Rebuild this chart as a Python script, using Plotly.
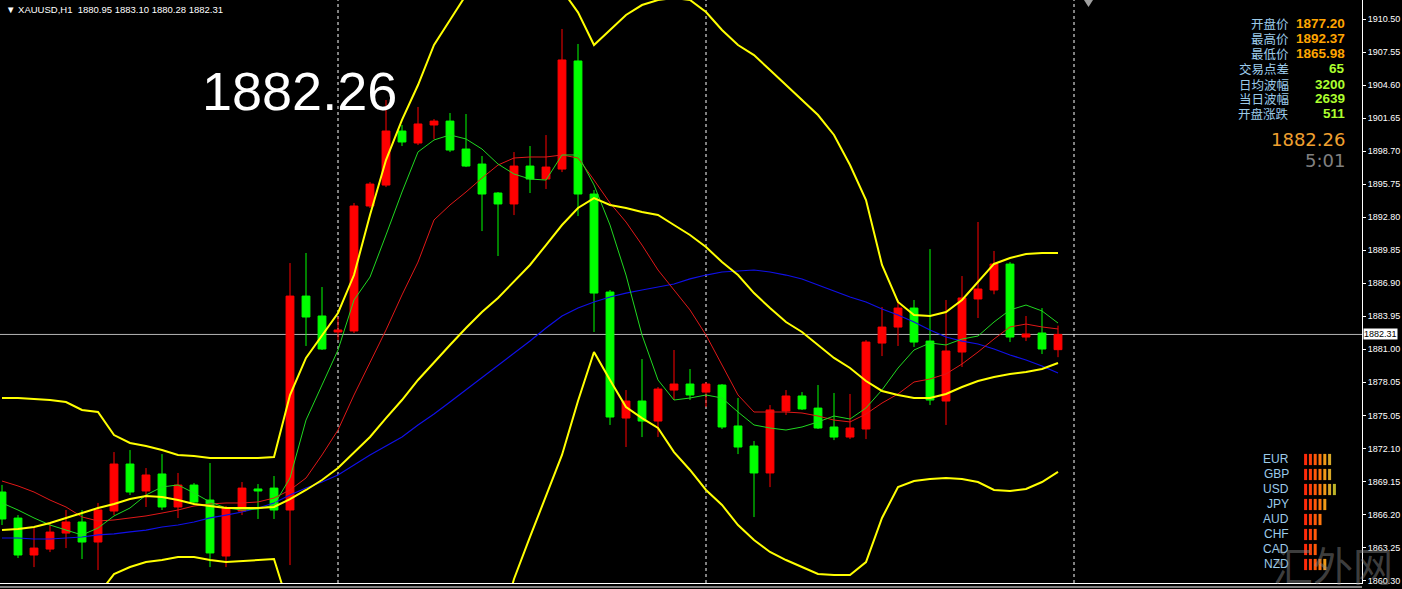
import plotly.graph_objects as go

# ---------------- data ----------------
idx = list(range(67))
opens = [1868.23, 1865.90, 1862.60, 1863.13, 1864.56, 1865.55, 1863.76, 1866.53, 1870.73, 1868.32,
         1869.84, 1866.89, 1868.85, 1867.51, 1862.51, 1866.53, 1868.50, 1868.58, 1866.62, 1885.74,
         1883.96, 1882.53, 1882.62, 1893.79, 1895.66, 1900.49, 1899.42, 1901.03, 1901.38, 1898.88,
         1897.54, 1894.95, 1893.97, 1897.36, 1896.20, 1897.09, 1906.75, 1894.86, 1886.10, 1874.84,
         1876.36, 1874.57, 1877.34, 1877.88, 1877.16, 1877.79, 1874.13, 1872.34, 1869.93, 1875.47,
         1876.81, 1875.73, 1874.04, 1873.14, 1873.86, 1881.54, 1882.97, 1884.67, 1881.72, 1876.36,
         1880.74, 1885.48, 1886.28, 1888.60, 1882.08, 1882.44, 1880.95]
highs = [1868.86, 1866.17, 1865.01, 1865.55, 1866.62, 1866.62, 1867.25, 1871.80, 1871.98, 1870.37,
         1871.62, 1869.93, 1869.03, 1870.82, 1866.98, 1869.12, 1868.94, 1869.66, 1888.69, 1889.59,
         1886.55, 1883.87, 1894.06, 1895.93, 1903.26, 1901.03, 1902.64, 1901.56, 1902.10, 1902.01,
         1898.26, 1895.04, 1898.61, 1899.15, 1900.13, 1909.61, 1908.27, 1895.22, 1886.28, 1877.34,
         1880.11, 1877.61, 1880.92, 1879.22, 1878.06, 1877.88, 1876.63, 1872.79, 1876.00, 1877.34,
         1877.16, 1877.79, 1877.08, 1876.99, 1881.81, 1884.76, 1885.39, 1885.39, 1889.94, 1885.39,
         1887.53, 1892.36, 1889.77, 1888.78, 1883.96, 1884.67, 1883.10]
lows = [1865.28, 1862.33, 1861.52, 1862.86, 1863.22, 1862.24, 1861.26, 1866.17, 1867.96, 1866.89,
        1866.62, 1865.90, 1867.07, 1861.52, 1861.52, 1866.17, 1865.82, 1865.82, 1861.70, 1881.28,
        1880.92, 1881.81, 1882.44, 1893.61, 1895.48, 1899.15, 1899.24, 1899.78, 1898.61, 1897.27,
        1891.55, 1889.32, 1892.98, 1894.95, 1895.31, 1896.82, 1892.89, 1882.53, 1874.22, 1872.25,
        1873.14, 1873.14, 1876.45, 1876.45, 1875.82, 1873.86, 1871.62, 1865.99, 1868.67, 1875.11,
        1875.56, 1873.86, 1872.87, 1872.96, 1872.96, 1880.38, 1881.28, 1881.19, 1876.00, 1874.22,
        1879.40, 1883.78, 1885.90, 1881.63, 1881.72, 1880.56, 1880.28]
closes = [1865.82, 1862.60, 1863.22, 1864.65, 1865.55, 1863.76, 1866.62, 1870.73, 1868.23, 1869.75,
          1866.89, 1868.85, 1867.33, 1862.78, 1866.80, 1868.58, 1868.32, 1866.62, 1885.74, 1883.87,
          1881.01, 1882.71, 1893.79, 1895.75, 1900.49, 1899.51, 1901.12, 1901.38, 1898.79, 1897.36,
          1894.86, 1893.97, 1897.36, 1896.20, 1897.27, 1906.84, 1894.86, 1886.01, 1874.93, 1876.36,
          1874.57, 1877.43, 1877.88, 1876.90, 1877.88, 1874.04, 1872.25, 1869.93, 1875.56, 1876.81,
          1875.65, 1873.95, 1873.14, 1873.95, 1881.63, 1882.97, 1884.67, 1881.63, 1876.45, 1880.83,
          1885.57, 1886.37, 1888.60, 1882.08, 1882.35, 1881.01, 1882.31]

bb_upper = [1876.63, 1876.63, 1876.54, 1876.45, 1876.27, 1875.56, 1875.38, 1873.32, 1872.61, 1872.34,
            1871.98, 1871.54, 1871.45, 1871.27, 1871.27, 1871.27, 1871.27, 1871.36, 1876.90, 1880.21,
            1882.26, 1884.23, 1887.62, 1892.99, 1897.90, 1901.48, 1904.60, 1908.18, 1910.41, 1912.65,
            1914.88, 1915.77, 1915.77, 1915.33, 1913.99, 1913.10, 1911.10, 1908.18, 1909.52, 1910.86,
            1911.75, 1912.20, 1912.38, 1912.20, 1911.13, 1909.52, 1908.18, 1907.28, 1905.94, 1904.60,
            1903.26, 1901.92, 1900.14, 1897.45, 1894.33, 1888.52, 1885.21, 1884.05, 1883.96, 1884.32,
            1885.39, 1887.00, 1888.61, 1889.14, 1889.50, 1889.59, 1889.59]
bb_middle = [1864.83, 1864.92, 1865.10, 1865.46, 1865.91, 1866.35, 1866.80, 1867.16, 1867.60, 1867.87,
             1867.78, 1867.51, 1867.16, 1866.98, 1866.80, 1866.80, 1866.80, 1866.89, 1867.60, 1868.41,
             1869.30, 1870.37, 1871.80, 1873.15, 1874.84, 1876.45, 1878.24, 1879.85, 1881.37, 1882.89,
             1884.32, 1885.57, 1887.00, 1888.52, 1890.30, 1892.09, 1893.61, 1894.50, 1893.88, 1893.61,
             1893.25, 1892.99, 1892.09, 1891.20, 1890.13, 1888.78, 1887.62, 1886.01, 1884.67, 1883.42,
             1882.53, 1881.37, 1880.21, 1879.31, 1878.15, 1877.26, 1876.90, 1876.63, 1876.63, 1876.99,
             1877.61, 1878.15, 1878.51, 1878.78, 1878.95, 1879.22, 1879.76]
bb_lower = [1856.80, 1857.00, 1857.20, 1857.40, 1857.80, 1858.20, 1859.02, 1860.90, 1861.53, 1861.97,
            1862.15, 1862.42, 1862.42, 1862.15, 1861.97, 1862.06, 1862.15, 1862.24, 1857.68, 1856.60,
            1856.30, 1856.50, 1856.00, 1853.30, 1851.80, 1851.40, 1851.90, 1851.50, 1852.30, 1853.10,
            1853.80, 1855.40, 1860.46, 1864.21, 1867.87, 1871.54, 1876.36, 1880.74, 1878.24, 1875.83,
            1874.84, 1873.95, 1871.80, 1870.20, 1868.41, 1867.07, 1865.28, 1863.94, 1862.87, 1862.15,
            1861.53, 1860.90, 1860.81, 1860.81, 1861.97, 1865.91, 1868.68, 1869.21, 1869.39, 1869.48,
            1869.39, 1869.12, 1868.41, 1868.32, 1868.50, 1869.12, 1870.02]
ma_fast = [1867.25, 1866.62, 1865.91, 1865.28, 1864.83, 1864.39, 1865.01, 1866.09, 1866.80, 1867.96,
           1868.68, 1868.86, 1868.14, 1867.34, 1866.80, 1866.62, 1866.71, 1867.07, 1869.48, 1874.66,
           1877.79, 1880.92, 1885.39, 1887.44, 1891.20, 1895.04, 1898.62, 1899.69, 1900.14, 1899.78,
           1898.88, 1897.54, 1896.65, 1896.20, 1896.11, 1898.35, 1898.35, 1895.67, 1892.09, 1887.62,
           1882.26, 1878.24, 1876.45, 1876.63, 1876.90, 1876.63, 1875.38, 1874.22, 1873.95, 1873.77,
           1874.04, 1874.49, 1875.02, 1874.75, 1875.74, 1877.35, 1879.31, 1880.92, 1881.55, 1881.37,
           1881.90, 1882.17, 1883.42, 1884.50, 1884.94, 1884.41, 1883.33]
ma_mid = [1869.21, 1868.77, 1868.23, 1867.51, 1866.89, 1866.00, 1865.64, 1865.73, 1865.91, 1866.09,
          1866.35, 1866.62, 1866.98, 1867.16, 1867.25, 1867.25, 1867.34, 1867.69, 1868.41, 1869.48,
          1871.54, 1873.77, 1876.90, 1879.85, 1882.71, 1885.84, 1888.78, 1892.54, 1893.88, 1895.04,
          1896.29, 1897.45, 1898.08, 1898.17, 1898.17, 1898.35, 1898.08, 1896.11, 1894.06, 1892.36,
          1890.30, 1888.07, 1886.28, 1884.50, 1882.26, 1879.58, 1876.90, 1875.38, 1875.38, 1875.38,
          1875.29, 1875.02, 1874.66, 1874.49, 1875.20, 1876.18, 1876.99, 1878.06, 1878.33, 1878.78,
          1879.67, 1880.74, 1881.90, 1882.98, 1883.24, 1882.98, 1882.80]
ma_slow = [1864.12, 1864.12, 1864.03, 1864.03, 1864.12, 1864.21, 1864.39, 1864.48, 1864.66, 1864.83,
           1865.10, 1865.28, 1865.55, 1865.91, 1866.17, 1866.44, 1866.80, 1867.25, 1867.96, 1868.59,
           1869.12, 1869.75, 1870.64, 1871.54, 1872.34, 1873.15, 1874.22, 1875.20, 1876.27, 1877.35,
           1878.42, 1879.49, 1880.65, 1881.72, 1882.89, 1883.96, 1884.67, 1885.21, 1885.66, 1886.01,
           1886.28, 1886.55, 1886.82, 1887.27, 1887.62, 1887.89, 1887.98, 1888.07, 1887.89, 1887.62,
           1887.27, 1886.73, 1886.19, 1885.66, 1885.21, 1884.58, 1884.05, 1883.42, 1882.71, 1882.08,
           1881.72, 1881.46, 1881.01, 1880.47, 1880.03, 1879.49, 1878.87]

day_separators = [21, 44, 67]
current_price = 1882.31
tick_vals = [1910.50, 1907.55, 1904.60, 1901.65, 1898.70, 1895.75, 1892.80, 1889.85, 1886.90,
             1883.95, 1881.00, 1878.05, 1875.05, 1872.10, 1869.15, 1866.20, 1863.25, 1860.30]
tick_text = ["%.2f" % v for v in tick_vals]

header = "▼ XAUUSD,H1  1880.95 1883.10 1880.28 1882.31"
big_price = "1882.26"
info_labels = ["开盘价", "最高价", "最低价", "交易点差", "日均波幅", "当日波幅", "开盘涨跌"]
info_values = ["1877.20", "1892.37", "1865.98", "65", "3200", "2639", "511"]
info_colors = ["#FFA500", "#FFA500", "#FFA500", "#ADFF2F", "#ADFF2F", "#ADFF2F", "#ADFF2F"]
bid_text = "1882.26"
timer_text = "5:01"
currencies = ["EUR", "GBP", "USD", "JPY", "AUD", "CHF", "CAD", "NZD"]
strength = [6, 6, 7, 5, 4, 3, 3, 5]
seg_colors = ["#FF2A0A", "#FF400A", "#FF5A0A", "#FF760E", "#F09A18", "#D8A828", "#BDB428"]

# ---------------- figure ----------------
W, H = 1402, 589
ML, MR, MT, MB = 0, 40, 0, 6
PW, PH = W - ML - MR, H - MT - MB


def px(x):
    return x / PW


def py(y):
    return 1 - y / PH


fig = go.Figure()
fig.add_trace(go.Candlestick(
    x=idx, open=opens, high=highs, low=lows, close=closes,
    increasing=dict(line=dict(color="#FF0000", width=1), fillcolor="#FF0000"),
    decreasing=dict(line=dict(color="#00FF00", width=1), fillcolor="#00FF00"),
    whiskerwidth=0, showlegend=False, hoverinfo="skip"))

for series, color, width in [(ma_slow, "#1010E8", 1.2), (ma_mid, "#E01818", 1),
                             (ma_fast, "#20D820", 1),
                             (bb_upper, "#FFFF00", 2), (bb_middle, "#FFFF00", 2),
                             (bb_lower, "#FFFF00", 2)]:
    fig.add_trace(go.Scatter(x=idx, y=series, mode="lines",
                             line=dict(color=color, width=width),
                             showlegend=False, hoverinfo="skip"))

# currency strength bars
bx, by, bc = [], [], []
for r, (cur, n) in enumerate(zip(currencies, strength)):
    for k in range(1, n + 1):
        bx.append(k)
        by.append(r)
        bc.append(seg_colors[k - 1])
fig.add_trace(go.Scatter(x=bx, y=by, mode="markers", xaxis="x2", yaxis="y2",
                         marker=dict(symbol="line-ns", size=8,
                                     line=dict(width=3, color=bc)),
                         showlegend=False, hoverinfo="skip"))

shapes = []
shapes.append(dict(type="line", xref="paper", yref="y", x0=0, x1=1,
                   y0=current_price, y1=current_price,
                   line=dict(color="#B4B4B4", width=1), layer="below"))
for s in day_separators:
    shapes.append(dict(type="line", xref="x", yref="paper", x0=s, x1=s, y0=0, y1=1,
                       line=dict(color="#FFFFFF", width=1, dash="3px,3px"), layer="below"))
shapes.append(dict(type="line", xref="paper", yref="paper", x0=0, x1=1,
                   y0=-4 / PH, y1=-4 / PH, line=dict(color="#FFFFFF", width=1)))
shapes.append(dict(type="path", xref="paper", yref="paper",
                   path="M %f,%f L %f,%f L %f,%f Z" % (px(1084), py(0), px(1093), py(0),
                                                      px(1088.5), py(7)),
                   fillcolor="#A0A0A0", line=dict(width=0)))

ann = []
ann.append(dict(text=header, x=px(4), y=py(9), xref="paper", yref="paper",
                xanchor="left", yanchor="middle", showarrow=False,
                font=dict(family="Liberation Sans", size=9.5, color="#FFFFFF")))
ann.append(dict(text=big_price, x=px(200), y=py(91), xref="paper", yref="paper",
                xanchor="left", yanchor="middle", showarrow=False,
                font=dict(family="Liberation Sans", size=54, color="#FFFFFF")))
rows_y = [23, 38, 53, 69, 84, 99, 114]
for lab, val, col, yy in zip(info_labels, info_values, info_colors, rows_y):
    ann.append(dict(text=lab, x=px(1291), y=py(yy), xref="paper", yref="paper",
                    xanchor="right", yanchor="middle", showarrow=False,
                    font=dict(family="Noto Sans CJK SC", size=12.5, color="#9CCBEA")))
    ann.append(dict(text="<b>%s</b>" % val, x=px(1347), y=py(yy), xref="paper", yref="paper",
                    xanchor="right", yanchor="middle", showarrow=False,
                    font=dict(family="Liberation Sans", size=13.5, color=col)))
ann.append(dict(text=bid_text, x=px(1347), y=py(140), xref="paper", yref="paper",
                xanchor="right", yanchor="middle", showarrow=False,
                font=dict(family="DejaVu Sans", size=18, color="#F0A030")))
ann.append(dict(text=timer_text, x=px(1347), y=py(160), xref="paper", yref="paper",
                xanchor="right", yanchor="middle", showarrow=False,
                font=dict(family="DejaVu Sans", size=18, color="#808080")))
for r, cur in enumerate(currencies):
    ann.append(dict(text=cur, x=px(1291), y=py(459 + 15 * r), xref="paper", yref="paper",
                    xanchor="right", yanchor="middle", showarrow=False,
                    font=dict(family="Liberation Sans", size=12, color="#9CCBEA")))
ann.append(dict(text="汇外网", x=px(1333), y=py(564), xref="paper", yref="paper",
                xanchor="center", yanchor="middle", showarrow=False,
                font=dict(family="Noto Sans CJK SC", size=40, color="rgba(140,140,140,0.45)")))
ann.append(dict(text="%.2f" % current_price, x=1.0, y=current_price, xref="paper", yref="y",
                xanchor="left", yanchor="middle", xshift=1, showarrow=False,
                bgcolor="#FFFFFF", borderpad=0,
                font=dict(family="Liberation Sans", size=9, color="#000000")))

fig.update_layout(
    width=W, height=H,
    margin=dict(l=ML, r=MR, t=MT, b=MB, pad=0, autoexpand=False),
    paper_bgcolor="#000000", plot_bgcolor="#000000",
    showlegend=False, boxgap=0.3,
    xaxis=dict(range=[-0.125, PW / 16 - 0.125], showgrid=False, zeroline=False,
               showticklabels=False, ticks="", showline=True, linecolor="#FFFFFF",
               linewidth=1, rangeslider=dict(visible=False), fixedrange=True,
               automargin=False),
    yaxis=dict(range=[1912.2 - PH * 0.08937, 1912.2], side="right", showgrid=False,
               zeroline=False, tickmode="array", tickvals=tick_vals, ticktext=tick_text,
               ticks="outside", ticklen=3, tickcolor="#FFFFFF", showline=True,
               linecolor="#FFFFFF", linewidth=1, automargin=False,
               tickfont=dict(family="Liberation Sans", size=9, color="#FFFFFF")),
    xaxis2=dict(domain=[px(1302), px(1350)], range=[0.25, 10.25], visible=False,
                anchor="y2"),
    yaxis2=dict(domain=[py(572), py(452)], range=[7.5, -0.5], visible=False,
                anchor="x2"),
    shapes=shapes, annotations=ann,
)

fig.write_html("out.html",
               config={"displayModeBar": False, "staticPlot": True},
               post_script="document.body.style.margin='0px';"
                           "document.body.style.background='#000000';"
                           "document.body.style.overflow='hidden';")
